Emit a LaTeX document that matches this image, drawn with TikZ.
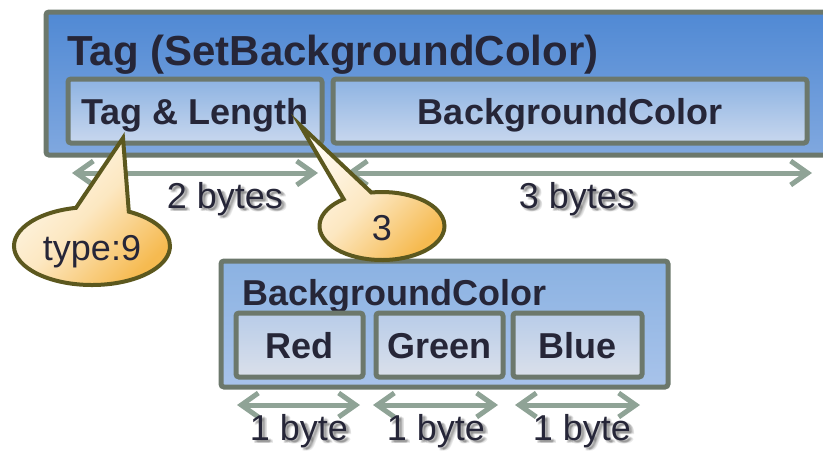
\documentclass[tikz,border=0pt]{standalone}
\usepackage{fontspec}
\setmainfont{Liberation Sans}
\usetikzlibrary{arrows.meta,shapes.callouts,calc}

\definecolor{ink}{RGB}{38,38,56}
\definecolor{boxline}{RGB}{108,120,108}
\definecolor{outerTop}{RGB}{80,137,212}
\definecolor{outerBot}{RGB}{128,168,223}
\definecolor{fieldTop}{RGB}{141,179,226}
\definecolor{fieldBot}{RGB}{200,215,238}
\definecolor{groupTop}{RGB}{139,178,226}
\definecolor{groupBot}{RGB}{168,195,234}
\definecolor{byteTop}{RGB}{184,204,233}
\definecolor{byteBot}{RGB}{218,224,234}
\definecolor{spanline}{RGB}{143,163,150}
\definecolor{noteLight}{RGB}{255,251,242}
\definecolor{noteDark}{RGB}{246,186,80}
\definecolor{noteLine}{RGB}{92,88,30}

\newcommand\bigbold{\fontsize{42}{48}\selectfont\bfseries}
\newcommand\midbold{\fontsize{36}{42}\selectfont\bfseries}
\newcommand\midplain{\fontsize{36}{42}\selectfont}

% a plain label with a soft drop shadow
\newcommand\softlabel[3]{%
  \foreach \dx/\dy [count=\k] in {2.5/3,3.5/2.5,1.5/3,4.5/2,3/1.5,5/3,2/2}{
    \node[lbltext, text=black, opacity=0.08] (#1-s\k) at ($(#2)+(\dx,\dy)$) {#3};
  }
  \node[lbltext] (#1) at (#2) {#3};
}

\begin{document}
\begin{tikzpicture}[x=1pt,y=-1pt,
  box/.style={draw=boxline, line width=5pt, rounded corners=3pt, inner sep=0pt,
    text=ink, text height=26pt, text depth=0pt, font=\midbold},
  outerbox/.style={box, top color=outerTop, bottom color=outerBot},
  fieldbox/.style={box, top color=fieldTop, bottom color=fieldBot},
  groupbox/.style={box, top color=groupTop, bottom color=groupBot},
  bytebox/.style={box, top color=byteTop, bottom color=byteBot},
  boxtitle/.style={inner sep=0pt, anchor=base west, text=ink},
  lbltext/.style={inner sep=0pt, anchor=base, text=ink, font=\midplain},
  span/.style={draw=spanline, line width=5pt,
    {Straight Barb[length=17pt,width=24pt]}-{Straight Barb[length=17pt,width=24pt]}},
  note/.style={ellipse callout, draw=noteLine, line width=4pt, inner sep=0pt,
    text=ink, font=\midplain, text height=28pt, text depth=0pt,
    top color=noteLight, bottom color=noteDark,
    middle color=noteLight!70!noteDark, shading angle=45}
]
\useasboundingbox (0,0) rectangle (823,451);

% tag frame
\node[outerbox, minimum width=789pt, minimum height=143pt] (frame) at (440.5,83.5) {};
\node[boxtitle, font=\bigbold] (frameTitle) at (67,65) {Tag (SetBackgroundColor)};
\node[fieldbox, minimum width=254pt, minimum height=64pt] (tagLen) at (195,111) {Tag \& Length};
\node[fieldbox, minimum width=474pt, minimum height=64pt] (bgField) at (570,111) {BackgroundColor};

% payload structure
\node[groupbox, minimum width=447pt, minimum height=126pt] (bgGroup) at (444.5,324) {};
\node[boxtitle, font=\midbold] (bgTitle) at (242,305) {BackgroundColor};
\node[bytebox, minimum width=127pt, minimum height=64pt] (red) at (299.5,345) {Red};
\node[bytebox, minimum width=127pt, minimum height=64pt] (green) at (439.5,345) {Green};
\node[bytebox, minimum width=129pt, minimum height=64pt] (blue) at (577.5,345) {Blue};

% size spans
\coordinate (twoL) at (72,173);   \coordinate (twoR) at (318,173);
\coordinate (threeL) at (346,173); \coordinate (threeR) at (812,173);
\coordinate (redL) at (237,405);   \coordinate (redR) at (360,405);
\coordinate (greenL) at (373,405); \coordinate (greenR) at (498,405);
\coordinate (blueL) at (515,405);  \coordinate (blueR) at (640,405);
\draw[span] (twoL) -- (twoR);
\draw[span] (threeL) -- (threeR);
\draw[span] (redL) -- (redR);
\draw[span] (greenL) -- (greenR);
\draw[span] (blueL) -- (blueR);

\softlabel{twoLbl}{225,208}{2 bytes}
\softlabel{threeLbl}{577,208}{3 bytes}
\softlabel{redLbl}{299,440}{1 byte}
\softlabel{greenLbl}{436,440}{1 byte}
\softlabel{blueLbl}{582,440}{1 byte}

% value callouts
\coordinate (tipType) at (123,138);
\coordinate (tipLen) at (300,125);
\node[note, minimum width=156pt, minimum height=78pt, callout pointer arc=40,
  callout absolute pointer={(tipType)}] (typeNote) at (92,246) {type:9};
\node[note, minimum width=125pt, minimum height=68pt, callout pointer arc=28,
  callout absolute pointer={(tipLen)}] (lenNote) at (382,226) {3};
\end{tikzpicture}
\end{document}
